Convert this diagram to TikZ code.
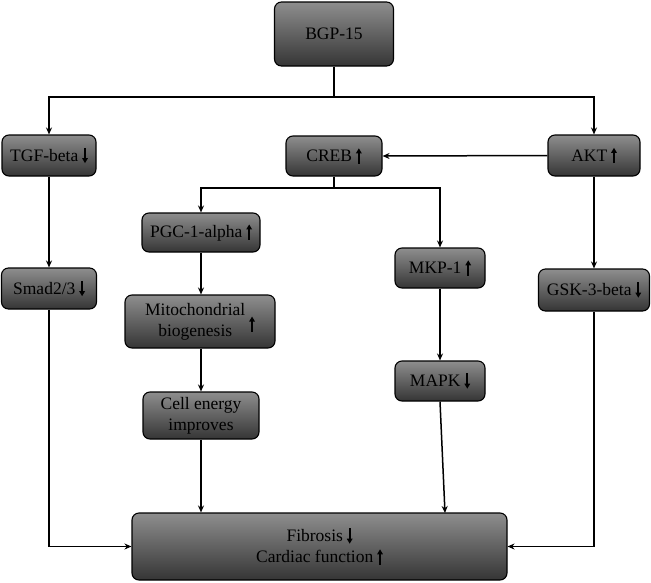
\documentclass[tikz,border=0pt]{standalone}
\usepackage{fontspec}
\setmainfont{Liberation Serif}
\usetikzlibrary{arrows.meta}
\definecolor{gtop}{HTML}{8E8E8E}
\definecolor{gbot}{HTML}{353535}
\newcommand\upar{\hspace{4pt}\tikz[baseline=0pt]{\draw[line width=1.7pt,-{Triangle[length=5pt,width=5.5pt]}] (0,-0.12em)--(0,0.76em);}}
\newcommand\dnar{\hspace{4pt}\tikz[baseline=0pt]{\draw[line width=1.7pt,-{Triangle[length=5pt,width=5.5pt]}] (0,0.76em)--(0,-0.12em);}}
\tikzset{
  box/.style={draw=black, line width=1.1pt, rounded corners=7pt, top color=gtop, bottom color=gbot,
    align=center, inner sep=2pt, font=\fontsize{17.5}{21}\selectfont, text=black},
  arr/.style={draw=black, line width=1.5pt, -{Stealth[length=7pt,width=6pt]}},
  ln/.style={draw=black, line width=1.5pt},
}
\begin{document}
\begin{tikzpicture}[x=1pt,y=-1pt]
\useasboundingbox (0,0) rectangle (651,582);
\node[box, minimum width=119pt, minimum height=64pt] (bgp) at (334,34) {BGP-15};
\node[box, minimum width=94pt, minimum height=41pt] (tgf) at (49,155.5) {TGF-beta\dnar};
\node[box, minimum width=96pt, minimum height=40pt] (creb) at (334,156) {CREB\upar};
\node[box, minimum width=92pt, minimum height=41pt] (akt) at (594,155.5) {AKT\upar};
\node[box, minimum width=95pt, minimum height=41pt] (smad) at (49,288.5) {Smad2/3\dnar};
\node[box, minimum width=111pt, minimum height=42pt] (gsk) at (594,290) {GSK-3-beta\dnar};
\node[box, minimum width=118pt, minimum height=39pt] (pgc) at (201,232.5) {PGC-1-alpha\upar};
\node[box, minimum width=150pt, minimum height=53pt] (mito) at (200,321.5) {\begin{tabular}{@{}c@{}}Mitochondrial\\biogenesis\end{tabular}\raisebox{-4pt}{\upar}};
\node[box, minimum width=116pt, minimum height=47pt] (cell) at (201,415.5) {Cell energy\\improves};
\node[box, minimum width=90pt, minimum height=40pt] (mkp) at (440,268) {MKP-1\upar};
\node[box, minimum width=90pt, minimum height=40pt] (mapk) at (440,381) {MAPK\dnar};
\node[box, minimum width=375pt, minimum height=67pt] (fib) at (319.5,546.5) {Fibrosis\dnar\\Cardiac function\upar};
\coordinate (j1) at (334,97);
\coordinate (j2) at (334,188);
\coordinate (fm) at (445,513);
\draw[ln] (bgp.south) -- (j1);
\draw[arr] (j1) -| (tgf.north);
\draw[arr] (j1) -| (akt.north);
\draw[arr] (akt.west) -- (creb.east);
\draw[ln] (creb.south) -- (j2);
\draw[arr] (j2) -| (pgc.north);
\draw[arr] (j2) -| (mkp.north);
\draw[arr] (tgf.south) -- (smad.north);
\draw[arr] (akt.south) -- (gsk.north);
\draw[arr] (pgc.south) -- (mito.north -| pgc.south);
\draw[arr] (mito.south -| pgc.south) -- (cell.north);
\draw[arr] (cell.south) -- (cell.south |- fib.north);
\draw[arr] (mkp.south) -- (mapk.north);
\draw[arr] (mapk.south) -- (fm);
\draw[arr] (smad.south) |- (fib.west);
\draw[arr] (gsk.south) |- (fib.east);
\end{tikzpicture}
\end{document}
